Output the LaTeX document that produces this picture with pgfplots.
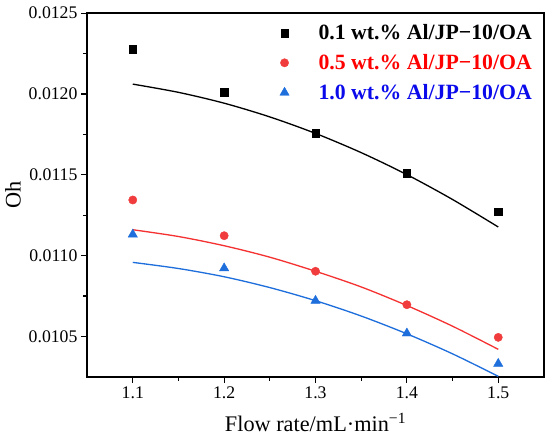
\documentclass[border=0pt]{standalone}
\usepackage{pgfplots}
\pgfplotsset{compat=1.18}
\usepackage{fontspec}
\setmainfont{Liberation Serif}
\definecolor{mred}{RGB}{240,60,60}
\definecolor{lred}{RGB}{245,50,50}
\definecolor{mblue}{RGB}{30,110,220}
\definecolor{tred}{RGB}{255,0,0}
\definecolor{tblue}{RGB}{10,10,235}
\begin{document}
\begin{tikzpicture}
\begin{axis}[
  scale only axis,
  width=451pt, height=359pt,
  xmin=1.05, xmax=1.55,
  ymin=0.01025, ymax=0.0125,
  xtick={1.1,1.2,1.3,1.4,1.5},
  xticklabels={1.1,1.2,1.3,1.4,1.5},
  minor x tick num=1,
  ytick={0.0105,0.0110,0.0115,0.0120,0.0125},
  yticklabels={0.0105,0.0110,0.0115,0.0120,0.0125},
  minor y tick num=1,
  scaled y ticks=false,
  tick align=outside,
  xtick pos=bottom, ytick pos=left,
  major tick length=6pt, minor tick length=4pt,
  every tick/.style={black, line width=1.2pt},
  axis line style={line width=1.5pt},
  tick label style={font=\fontsize{17.5}{20}\selectfont},
  /pgf/number format/assume math mode=true,
  xlabel={Flow rate/mL·min\textsuperscript{−1}},
  ylabel={Oh},
  label style={font=\fontsize{22}{26}\selectfont},
  xlabel style={yshift=-8pt},
  ylabel style={yshift=1pt},
  legend style={draw=none, fill=none, at={(axis description cs:0.985,0.98)}, anchor=north east,
    font=\bfseries\fontsize{21.5}{24}\selectfont, row sep=9pt,
    /tikz/every odd column/.append style={column sep=27pt}},
  legend cell align=left,
]
\addplot[only marks, mark=square*, mark size=3.7pt, black] coordinates {
(1.1,0.012276) (1.2,0.012010) (1.3,0.011756) (1.4,0.011509) (1.5,0.011271)};
\addlegendentry{0.1 wt.\% Al/JP−10/OA}
\addplot[only marks, mark=*, mark size=4.1pt, mred, mark options={draw=mred, fill=mred}] coordinates {
(1.1,0.011344) (1.2,0.011123) (1.3,0.010903) (1.4,0.010696) (1.5,0.010494)};
\addlegendentry{\textcolor{tred}{0.5 wt.\% Al/JP−10/OA}}
\addplot[only marks, mark=triangle*, mark size=5.3pt, mblue, mark options={draw=mblue, fill=mblue}] coordinates {
(1.1,0.011131) (1.2,0.010922) (1.3,0.010721) (1.4,0.010519) (1.5,0.010331)};
\addlegendentry{\textcolor{tblue}{1.0 wt.\% Al/JP−10/OA}}
\addplot[black, line width=1.3pt, smooth, forget plot] coordinates {
(1.10,0.012061) (1.15,0.012010) (1.20,0.011943) (1.25,0.011858) (1.30,0.011756)
(1.35,0.011637) (1.40,0.011501) (1.45,0.011347) (1.50,0.011177)};
\addplot[lred, line width=1.3pt, smooth, forget plot] coordinates {
(1.10,0.011160) (1.15,0.011118) (1.20,0.011061) (1.25,0.010990) (1.30,0.010903)
(1.35,0.010806) (1.40,0.010691) (1.45,0.010563) (1.50,0.010420)};
\addplot[mblue, line width=1.3pt, smooth, forget plot] coordinates {
(1.10,0.010958) (1.15,0.010920) (1.20,0.010869) (1.25,0.010802) (1.30,0.010721)
(1.35,0.010626) (1.40,0.010516) (1.45,0.010392) (1.50,0.010253)};
\end{axis}
\path (current axis.south west) ++(-86pt,-59pt) coordinate (bbA);
\path (current axis.north east) ++(6pt,13pt) coordinate (bbB);
\pgfresetboundingbox
\path[use as bounding box] (bbA) rectangle (bbB);
\end{tikzpicture}
\end{document}
